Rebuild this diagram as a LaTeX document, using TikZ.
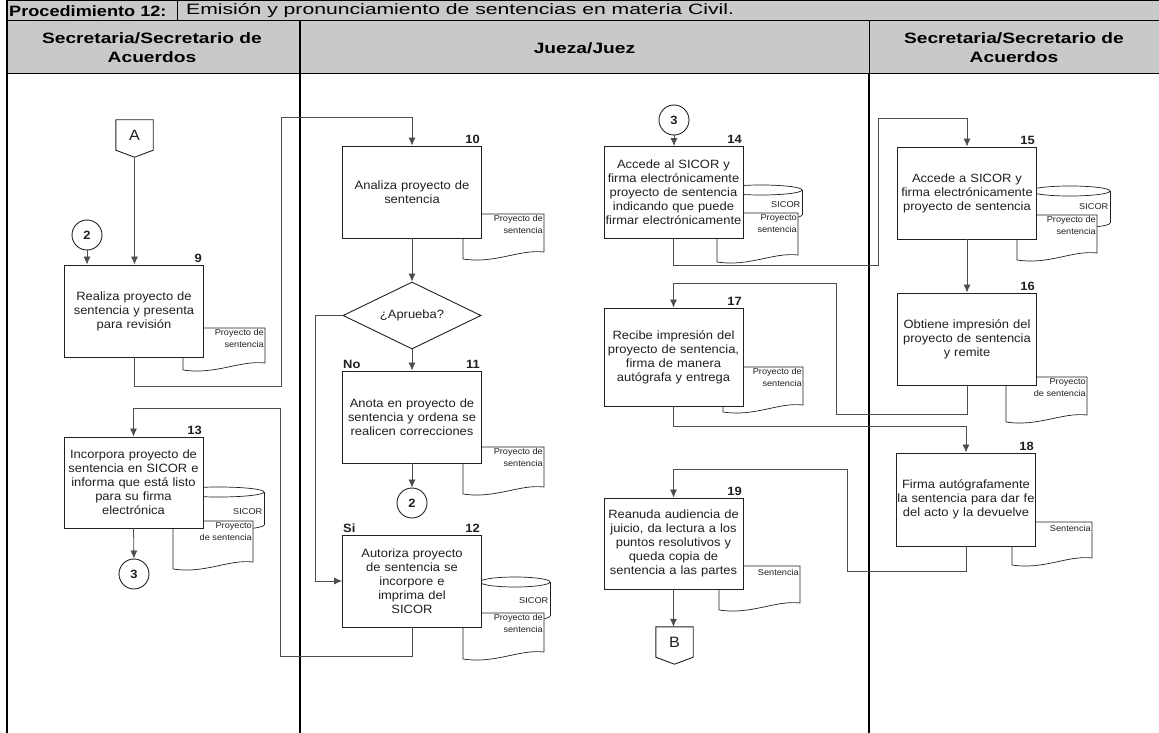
\documentclass[tikz,border=0pt]{standalone}
\usepackage{fontspec}
\setmainfont{Liberation Sans}[FakeStretch=1.08]
\newfontfamily\hdrfont{Liberation Sans}[FakeStretch=1.28]
\newfontfamily\topbfont{Liberation Sans}[FakeStretch=1.21]
\newfontfamily\hdrregfont{Liberation Sans}[FakeStretch=1.41]
\usetikzlibrary{arrows.meta,shapes.geometric,calc}
\definecolor{hdrgray}{HTML}{C8C9CB}
\definecolor{ink}{HTML}{231F20}
\definecolor{conn}{HTML}{4D4D4D}
\newcommand\docshape[4]{%
  \draw[draw=ink, line width=0.7pt, fill=white] (#1,#3) -- (#2,#3) -- (#2,#4)
    .. controls ({#2-0.3*(#2-#1)},{#4-3}) and ({#1+0.4*(#2-#1)},{#4+12}) .. (#1,{#4+7}) -- cycle;}
\newcommand\dbshape[4]{%
  \draw[draw=ink, line width=0.7pt, fill=white] ({(#1+#2)/2},{#4-5}) ellipse [x radius={(#2-#1)/2}, y radius=5];
  \fill[white] (#1,{#3+5}) rectangle (#2,{#4-5});
  \draw[draw=ink, line width=0.7pt] (#1,{#3+5}) -- (#1,{#4-5}) (#2,{#3+5}) -- (#2,{#4-5});
  \draw[draw=ink, line width=0.7pt, fill=white] ({(#1+#2)/2},{#3+5}) ellipse [x radius={(#2-#1)/2}, y radius=5];}
\begin{document}
\begin{tikzpicture}[x=1pt,y=-1pt,
  proc/.style={draw=ink, line width=0.9pt, fill=white, minimum width=139pt, minimum height=92pt,
    inner xsep=0pt, inner ysep=1pt, align=center, text width=139pt, font=\fontsize{12}{14}\selectfont, text=ink},
  num/.style={font=\bfseries\fontsize{12}{14}\selectfont, text=ink, anchor=south east, inner sep=1pt},
  lbl/.style={font=\bfseries\fontsize{12}{14}\selectfont, text=ink, anchor=south west, inner sep=1pt},
  conr/.style={circle, draw=ink, line width=0.9pt, fill=white, minimum size=30pt, inner sep=0pt,
    font=\bfseries\fontsize{12}{14}\selectfont, text=ink},
  offp/.style={minimum width=37pt, minimum height=30pt, inner sep=0pt, font=\fontsize{15}{17}\selectfont, text=ink},
  arr/.style={draw=conn, line width=0.8pt, -{Latex[length=8pt,width=7pt]}},
  ln/.style={draw=conn, line width=0.8pt},
  small/.style={font=\fontsize{8.5}{11.5}\selectfont, align=right, inner sep=0pt, text=ink, anchor=north east},
  dblbl/.style={font=\fontsize{8.5}{11.5}\selectfont, inner sep=0pt, text=ink, anchor=east},
  hdr/.style={font=\hdrregfont\fontsize{15}{19}\selectfont, text=black, inner sep=0pt},
  topb/.style={font=\topbfont\bfseries\fontsize{15}{19}\selectfont, text=black, inner sep=0pt},
  hdrb/.style={font=\hdrfont\bfseries\fontsize{15}{19}\selectfont, text=black, inner sep=0pt, align=center},
]
\useasboundingbox (0,0) rectangle (1159,733);
% table
\fill[hdrgray] (7,0) rectangle (1159,74);
\draw[black, line width=1pt] (7,0.5) -- (1159,0.5) (7,21) -- (1159,21) (7,74) -- (1159,74);
\draw[black, line width=1.2pt] (7,0) -- (7,733);
\draw[black, line width=0.8pt] (177,0) -- (177,21);
\draw[black, line width=1.3pt] (300,21) -- (300,733);
\draw[black, line width=0.9pt] (869,21) -- (869,74);
\draw[black, line width=2.5pt] (869,74) -- (869,733);
\node[topb, anchor=west] (t1) at (9,11) {Procedimiento 12:};
\node[hdr, anchor=west] (t2) at (186,11) {Emisión y pronunciamiento de sentencias en materia Civil.};
\node[hdrb] (h1) at (152,47.5) {Secretaria/Secretario de\\Acuerdos};
\node[hdrb] (h2) at (584.5,48) {Jueza/Juez};
\node[hdrb] (h3) at (1014,47.5) {Secretaria/Secretario de\\Acuerdos};

% column 1 -----------------------------------------------------------
\node[offp] (A) at (134.5,135) {A};
\draw[draw=ink, line width=0.9pt] (A.north west) -- (A.north east) -- (A.south east) -- ($(A.south)+(0,7)$) -- (A.south west) -- cycle;
\coordinate (Atip) at ($(A.south)+(0,7)$);
\node[conr] (c2a) at (87,235) {2};

\docshape{183}{265}{328}{363}
\node[small] (d9) at (264,329.5) {Proyecto de\\sentencia};
\node[proc] (b9) at (134,311) {Realiza proyecto de\\sentencia y presenta\\para revisión};
\node[num] (n9) at (203,264) {9};

\dbshape{173}{264}{487}{530}
\node[dblbl] (s13) at (262.5,512) {SICOR};
\docshape{173}{253}{521}{562}
\node[small] (d13) at (252,522.5) {Proyecto\\de sentencia};
\node[proc, minimum height=91pt] (b13) at (133.5,482.5) {Incorpora proyecto de\\sentencia en SICOR e\\informa que está listo\\para su firma\\electrónica};
\node[num] (n13) at (203,436) {13};
\node[conr] (c3a) at (134,574) {3};

% column 2a ----------------------------------------------------------
\docshape{463}{544}{214}{252}
\node[small] (d10) at (543,215.5) {Proyecto de\\sentencia};
\node[proc] (b10) at (412,192) {Analiza proyecto de\\sentencia};
\node[num] (n10) at (481,145) {10};

\node[diamond, draw=ink, line width=0.9pt, fill=white, aspect=2, minimum width=138pt, minimum height=67pt,
  inner sep=0pt, font=\fontsize{12}{14}\selectfont, text=ink] (dq) at (412,315.5) {¿Aprueba?};

\docshape{463}{544}{447}{487}
\node[small] (d11) at (543,448.5) {Proyecto de\\sentencia};
\node[proc] (b11) at (412,417) {Anota en proyecto de\\sentencia y ordena se\\realicen correcciones};
\node[num] (n11) at (481,370) {11};
\node[lbl] (no) at (342,370) {No};
\node[conr] (c2b) at (412,503) {2};

\dbshape{480}{550}{577}{621}
\node[dblbl] (s12) at (548.5,601) {SICOR};
\docshape{463}{544}{613}{652}
\node[small] (d12) at (543,614.5) {Proyecto de\\sentencia};
\node[proc] (b12) at (412,581) {Autoriza proyecto\\de sentencia se\\incorpore e\\imprima del\\SICOR};
\node[num] (n12) at (481,534) {12};
\node[lbl] (si) at (342,534) {Si};

% column 2b ----------------------------------------------------------
\node[conr] (c3b) at (674,120) {3};
\dbshape{720}{802}{185}{220}
\node[dblbl] (s14) at (800.5,205) {SICOR};
\docshape{717}{798}{213}{255}
\node[small] (d14) at (797,214.5) {Proyecto\\sentencia};
\node[proc] (b14) at (673.5,192.5) {\raisebox{4pt}{\parbox{139pt}{\centering Accede al SICOR y\\firma electrónicamente\\proyecto de sentencia\\indicando que puede\\firmar electrónicamente}}};
\node[num] (n14) at (743,145) {14};

\docshape{723}{803}{367}{405}
\node[small] (d17) at (802,368.5) {Proyecto de\\sentencia};
\node[proc, minimum height=98pt] (b17) at (673.5,357) {Recibe impresión del\\proyecto de sentencia,\\firma de manera\\autógrafa y entrega};
\node[num] (n17) at (743,307) {17};

\docshape{719}{800}{566}{603}
\node[small] (d19) at (799,569) {Sentencia};
\node[proc, minimum height=91pt] (b19) at (673.5,543.5) {Reanuda audiencia de\\juicio, da lectura a los\\puntos resolutivos y\\queda copia de\\sentencia a las partes};
\node[num] (n19) at (743,497) {19};

\node[offp] (B) at (674.5,642) {B};
\draw[draw=ink, line width=0.9pt] (B.north west) -- (B.north east) -- (B.south east) -- ($(B.south)+(0,7)$) -- (B.south west) -- cycle;

% column 3 -----------------------------------------------------------
\dbshape{1030}{1110}{186}{228}
\node[dblbl] (s15) at (1108.5,207) {SICOR};
\docshape{1017}{1097}{215}{253}
\node[small] (d15) at (1096,216.5) {Proyecto de\\sentencia};
\node[proc] (b15) at (967,193) {Accede a SICOR y\\firma electrónicamente\\proyecto de sentencia};
\node[num] (n15) at (1036,146) {15};

\docshape{1006}{1087}{377}{415}
\node[small] (d16) at (1086,378.5) {Proyecto\\de sentencia};
\node[proc] (b16) at (967,339) {Obtiene impresión del\\proyecto de sentencia\\y remite};
\node[num] (n16) at (1036,292) {16};

\docshape{1012}{1092}{522}{558}
\node[small] (d18) at (1091,525) {Sentencia};
\node[proc, minimum height=93pt] (b18) at (966,499.5) {Firma autógrafamente\\la sentencia para dar fe\\del acto y la devuelve};
\node[num] (n18) at (1035,452) {18};

% connectors ---------------------------------------------------------
\draw[arr] (Atip) -- (Atip |- b9.north);
\draw[arr] (c2a.south) -- (c2a.south |- b9.north);
\draw[arr] (b9.south) |- (281,386) -- (281,117) -| (b10.north);
\draw[arr] (b10.south) -- (dq.north);
\draw[arr] (dq.south) -- (b11.north);
\draw[arr] (dq.west) -- ++(-27,0) |- (b12.west);
\draw[arr] (b11.south) -- (c2b.north);
\draw[arr] (b12.south) |- (280,656) -- (280,408) -| (b13.north);
\draw[arr] (b13.south) -- (c3a.north);
\draw[arr] (c3b.south) -- (c3b.south |- b14.north);
\draw[arr] (b14.south) |- (878,265) -- (878,118) -| (b15.north);
\draw[arr] (b15.south) -- (b16.north);
\draw[arr] (b16.south) |- (836,414) -- (836,283) -| (b17.north);
\draw[arr] (b17.south) -- ++(0,20) -| (b18.north);
\draw[arr] (b18.south) |- (847,571) -- (847,469) -| (b19.north);
\draw[arr] (b19.south) -- (b19.south |- B.north);
\end{tikzpicture}
\end{document}
